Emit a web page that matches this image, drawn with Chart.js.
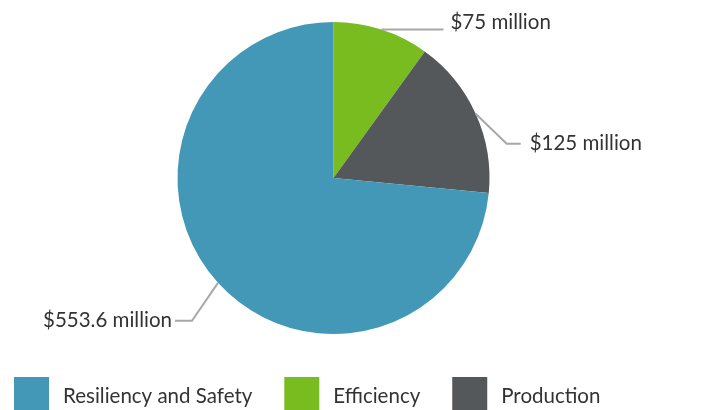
<!DOCTYPE html>
<html lang="en">
  <head>
    <meta charset="UTF-8"/>
    <title>Funding</title>
    <style>
      html, body { margin: 0; padding: 0; background: #fff; }
      #wrap { width: 709px; height: 410px; }
    </style>
  </head>
  <body>
  <div id="wrap">
    <canvas id="myChart" width="709" height="410"></canvas>
  </div>
  <script src="https://cdn.jsdelivr.net/npm/chart.js"></script>
  <script>
    // slices clockwise from 12 o'clock
    const categories = ['Efficiency', 'Production', 'Resiliency and Safety'];
    const values = [75, 125, 553.6];
    const colors = ['#78bc20', '#54585a', '#4398b8'];
    // legend shows the categories in this order
    const legendOrder = [2, 0, 1];

    const FONT = '20.5px Lato, "Open Sans", sans-serif';
    const TEXT = '#333335';

    // leader lines: extra segments after the slice edge, and text offset
    const leaders = [
      { segs: [[62, 0]], text: [7, -7], align: 'left' },
      { segs: [[31, 30], [14, 0]], text: [9, 0], align: 'left' },
      { segs: [[-26, 38], [-17, 0]], text: [-3, 0], align: 'right' }
    ];

    function fmt(v) {
      return '$' + v + ' million';
    }

    const labelPlugin = {
      id: 'leaders',
      afterDraw(chart) {
        const ctx = chart.ctx;
        const arcs = chart.getDatasetMeta(0).data;
        ctx.save();
        arcs.forEach((arc, i) => {
          const p = arc.getProps(['x', 'y', 'startAngle', 'endAngle', 'outerRadius'], true);
          const mid = (p.startAngle + p.endAngle) / 2;
          let x = p.x + p.outerRadius * Math.cos(mid);
          let y = p.y + p.outerRadius * Math.sin(mid);
          ctx.strokeStyle = '#a8a8a8';
          ctx.lineWidth = 2;
          ctx.beginPath();
          ctx.moveTo(x, y);
          leaders[i].segs.forEach(s => {
            x += s[0];
            y += s[1];
            ctx.lineTo(x, y);
          });
          ctx.stroke();
          ctx.fillStyle = TEXT;
          ctx.font = FONT;
          ctx.textAlign = leaders[i].align;
          ctx.textBaseline = 'middle';
          ctx.fillText(fmt(values[i]), x + leaders[i].text[0], y + leaders[i].text[1]);
        });

        // legend
        let lx = 14;
        const top = 377, box = 35;
        legendOrder.forEach(i => {
          ctx.fillStyle = colors[i];
          ctx.fillRect(lx, top, box, 33);
          ctx.fillStyle = TEXT;
          ctx.font = FONT;
          ctx.textAlign = 'left';
          ctx.textBaseline = 'middle';
          const tx = lx + box + 14;
          ctx.fillText(categories[i], tx, top + 19);
          lx = tx + ctx.measureText(categories[i]).width + 32;
        });
        ctx.restore();
      }
    };

    const data = {
      labels: categories,
      datasets: [{
        data: values,
        backgroundColor: colors,
        borderWidth: 0
      }]
    };

    const config = {
      type: 'pie',
      data,
      options: {
        responsive: false,
        animation: false,
        layout: { padding: { top: 22, bottom: 76, left: 100, right: 142 } },
        plugins: {
          legend: { display: false },
          tooltip: { enabled: false }
        }
      },
      plugins: [labelPlugin]
    };

    var myChart = new Chart(document.getElementById('myChart'), config);
  </script>
  </body>
</html>
